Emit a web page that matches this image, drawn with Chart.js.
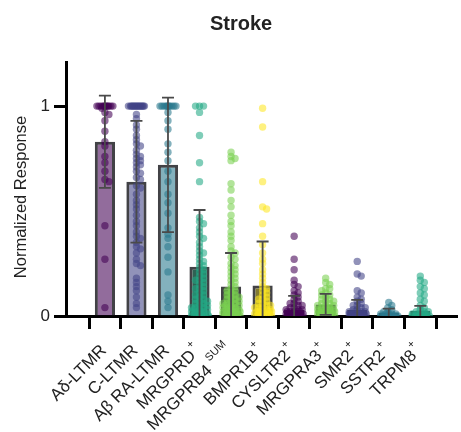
<!DOCTYPE html>
<html>
<head>
<meta charset="utf-8">
<script src="https://cdn.jsdelivr.net/npm/chart.js@4.4.1/dist/chart.umd.min.js"></script>
<style>
  html, body { margin: 0; padding: 0; background: #fff; }
  #wrap { width: 461px; height: 432px; position: relative; }
</style>
</head>
<body>
<div id="wrap"><canvas id="strokeChart"></canvas></div>
<script>
const categories = ['Aδ-LTMR', 'C-LTMR', 'Aβ RA-LTMR', 'MRGPRD', 'MRGPRB4', 'BMPR1B', 'CYSLTR2', 'MRGPRA3', 'SMR2', 'SSTR2', 'TRPM8'];
const superscripts = ['', '', '', '+', ' SUM', '+', '+', '+', '+', '+', '+'];
const means = [0.83, 0.64, 0.72, 0.235, 0.14, 0.145, 0.03, 0.055, 0.03, 0.015, 0.024];
const sds = [0.22, 0.29, 0.32, 0.27, 0.16, 0.21, 0.066, 0.05, 0.047, 0.02, 0.024];
const colors = ['#440154', '#414487', '#2a788e', '#22a884', '#7ad151', '#fde725', '#440154', '#7ad151', '#414487', '#2a788e', '#22a884'];
const yTicks = [0, 1];

// single-cell normalized responses per group
const adLtmr = [1, 1, 1, 1, 1, 1, 1, 1, 1, 1, 1, 1, 0.99, 0.97, 0.96, 0.93, 0.88, 0.83, 0.81, 0.76, 0.73, 0.69, 0.65, 0.64, 0.43, 0.27, 0.04];
const cLtmr = [1, 1, 1, 1, 1, 1, 1, 1, 1, 1, 1, 1, 1, 1, 1, 1, 0.96, 0.94, 0.91, 0.89, 0.86, 0.84, 0.82, 0.81, 0.79, 0.77, 0.76, 0.75, 0.74, 0.73, 0.72, 0.71, 0.69, 0.68, 0.66, 0.65, 0.62, 0.61, 0.58, 0.55, 0.53, 0.51, 0.48, 0.45, 0.43, 0.4, 0.38, 0.37, 0.35, 0.33, 0.32, 0.3, 0.27, 0.25, 0.24, 0.18, 0.16, 0.14, 0.12, 0.09, 0.06, 0.04];
const abRaLtmr = [1, 1, 1, 1, 1, 1, 1, 1, 1, 1, 1, 0.97, 0.93, 0.89, 0.82, 0.78, 0.74, 0.69, 0.64, 0.58, 0.54, 0.49, 0.42, 0.39, 0.37, 0.33, 0.28, 0.21, 0.1, 0.07, 0.04];
const mrgprd = [1, 1, 1, 0.97, 0.86, 0.73, 0.64, 0.47, 0.45, 0.44, 0.42, 0.4, 0.38, 0.37, 0.35, 0.33, 0.31, 0.3, 0.29, 0.27, 0.26, 0.25, 0.24, 0.23, 0.22, 0.21, 0.2, 0.19, 0.18, 0.17, 0.17, 0.16, 0.15, 0.14, 0.13, 0.13, 0.12, 0.11, 0.1, 0.1, 0.09, 0.08, 0.08, 0.07, 0.07, 0.06, 0.06, 0.05, 0.05, 0.04, 0.04, 0.04, 0.03, 0.03, 0.03, 0.02, 0.02, 0.02, 0.02, 0.01, 0.01, 0.01, 0.01, 0, 0, 0, 0, 0, 0];
const mrgprb4 = [0.78, 0.76, 0.75, 0.74, 0.63, 0.6, 0.55, 0.52, 0.48, 0.45, 0.43, 0.4, 0.38, 0.36, 0.33, 0.31, 0.3, 0.28, 0.27, 0.25, 0.24, 0.23, 0.22, 0.21, 0.2, 0.19, 0.18, 0.17, 0.16, 0.15, 0.14, 0.13, 0.12, 0.12, 0.11, 0.1, 0.1, 0.09, 0.09, 0.08, 0.08, 0.07, 0.07, 0.06, 0.06, 0.06, 0.05, 0.05, 0.05, 0.04, 0.04, 0.04, 0.04, 0.03, 0.03, 0.03, 0.03, 0.02, 0.02, 0.02, 0.02, 0.02, 0.02, 0.01, 0.01, 0.01, 0.01, 0.01, 0.01, 0, 0, 0, 0, 0, 0];
const bmpr1b = [0.99, 0.9, 0.64, 0.52, 0.51, 0.44, 0.38, 0.34, 0.3, 0.27, 0.25, 0.22, 0.2, 0.18, 0.16, 0.14, 0.13, 0.12, 0.11, 0.1, 0.09, 0.08, 0.08, 0.07, 0.06, 0.06, 0.05, 0.05, 0.04, 0.04, 0.04, 0.03, 0.03, 0.03, 0.02, 0.02, 0.02, 0.02, 0.02, 0.01, 0.01, 0.01, 0.01, 0.01, 0, 0, 0, 0, 0];
const cysltr2 = [0.38, 0.27, 0.22, 0.17, 0.15, 0.14, 0.12, 0.11, 0.1, 0.09, 0.08, 0.07, 0.06, 0.06, 0.05, 0.05, 0.04, 0.04, 0.03, 0.03, 0.03, 0.02, 0.02, 0.02, 0.02, 0.02, 0.01, 0.01, 0.01, 0.01, 0.01, 0.01, 0.01, 0.01, 0, 0, 0, 0, 0, 0, 0, 0, 0, 0];
const mrgpra3 = [0.18, 0.16, 0.15, 0.13, 0.13, 0.12, 0.11, 0.1, 0.1, 0.09, 0.08, 0.08, 0.07, 0.07, 0.06, 0.06, 0.05, 0.05, 0.05, 0.04, 0.04, 0.04, 0.03, 0.03, 0.03, 0.03, 0.02, 0.02, 0.02, 0.02, 0.02, 0.01, 0.01, 0.01, 0.01, 0.01, 0.01, 0, 0, 0, 0, 0, 0];
const smr2 = [0.26, 0.2, 0.19, 0.12, 0.11, 0.09, 0.08, 0.07, 0.06, 0.05, 0.05, 0.04, 0.04, 0.03, 0.03, 0.02, 0.02, 0.02, 0.02, 0.01, 0.01, 0.01, 0.01, 0.01, 0.01, 0.01, 0.01, 0, 0, 0, 0, 0, 0, 0, 0, 0, 0];
const sstr2 = [0.065, 0.05, 0.04, 0.03, 0.02, 0.02, 0.01, 0.01, 0.01, 0.01, 0.01, 0, 0, 0, 0, 0, 0, 0, 0, 0, 0];
const trpm8 = [0.19, 0.17, 0.16, 0.14, 0.13, 0.11, 0.1, 0.08, 0.07, 0.05, 0.04, 0.03, 0.02, 0.02, 0.02, 0.01, 0.01, 0.01, 0.01, 0.01, 0, 0, 0, 0, 0, 0, 0, 0];
const responses = [adLtmr, cLtmr, abRaLtmr, mrgprd, mrgprb4, bmpr1b, cysltr2, mrgpra3, smr2, sstr2, trpm8];

const FONT = "Arial, 'Liberation Sans', Helvetica, sans-serif";

function rgb(hex) {
  const n = parseInt(hex.slice(1), 16);
  return [n >> 16, (n >> 8) & 255, n & 255];
}
function withAlpha(hex, a) {
  const [r, g, b] = rgb(hex);
  return `rgba(${r}, ${g}, ${b}, ${a})`;
}
// the three LTMR bars get a light tint, the rest a dark, shaded tint
function barFill(hex, i) {
  if (i < 3) return withAlpha(hex, 0.58);
  const [r, g, b] = rgb(hex).map(c => Math.round(c * 0.38 + 55 * 0.62));
  return `rgb(${r}, ${g}, ${b})`;
}

// simple beeswarm: horizontal offsets (px) so dots don't pile up on one spot
function swarmOffsets(values, yScale) {
  const placed = [];
  const minDist = 3.8, maxHalf = 8.5;
  return values.map(v => {
    const py = yScale.getPixelForValue(v);
    let best = 0, bestClear = -1;
    for (let k = 0; k <= maxHalf * 2; k++) {
      const dx = (k % 2 ? 1 : -1) * Math.ceil(k / 2);
      let clear = Infinity;
      for (const p of placed) {
        const d = Math.hypot(p[0] - dx, p[1] - py);
        if (d < clear) clear = d;
      }
      if (clear >= minDist) { best = dx; bestClear = clear; break; }
      if (clear > bestClear) { bestClear = clear; best = dx; }
    }
    placed.push([best, py]);
    return best;
  });
}

const labelsAndBars = {
  id: 'labelsAndBars',
  afterDatasetsDraw(chart) {
    const { ctx, scales: { x, y } } = chart;
    // error bars (mean ± SD)
    ctx.save();
    ctx.strokeStyle = '#4a4a4a';
    ctx.lineWidth = 1.8;
    means.forEach((m, i) => {
      const cx = x.getPixelForValue(i);
      const top = y.getPixelForValue(m + sds[i]);
      const lo = m - sds[i];
      const bot = y.getPixelForValue(Math.max(0, lo));
      ctx.beginPath();
      ctx.moveTo(cx, bot); ctx.lineTo(cx, top);
      ctx.moveTo(cx - 6, top); ctx.lineTo(cx + 6, top);
      if (lo > 0) { ctx.moveTo(cx - 6, bot); ctx.lineTo(cx + 6, bot); }
      ctx.stroke();
    });
    ctx.restore();
  },
  afterDraw(chart) {
    const { ctx, chartArea, scales: { x, y } } = chart;
    ctx.save();
    ctx.fillStyle = '#222';
    // title
    ctx.font = `bold 20px ${FONT}`;
    ctx.textAlign = 'center';
    ctx.textBaseline = 'middle';
    ctx.fillText('Stroke', 241, 24);
    // y axis title
    ctx.save();
    ctx.translate(21, (chartArea.top + chartArea.bottom) / 2 + 8);
    ctx.rotate(-Math.PI / 2);
    ctx.font = `16.5px ${FONT}`;
    ctx.fillText('Normalized Response', 0, 0);
    ctx.restore();
    // rotated category labels with superscripts
    const y0 = y.getPixelForValue(0);
    const mainFont = `17px ${FONT}`, supFont = `11px ${FONT}`;
    categories.forEach((name, i) => {
      const sup = superscripts[i];
      ctx.save();
      ctx.translate(x.getPixelForValue(i) - 1, y0 + 32);
      ctx.rotate(-Math.PI / 4);
      ctx.textAlign = 'left';
      ctx.textBaseline = 'middle';
      ctx.font = supFont;
      const ws = sup ? ctx.measureText(sup).width + 1 : 0;
      ctx.font = mainFont;
      const wm = ctx.measureText(name).width;
      ctx.fillText(name, -(wm + ws), 0);
      if (sup) {
        ctx.font = supFont;
        ctx.fillText(sup, -ws + 1, -8);
      }
      ctx.restore();
    });
    ctx.restore();
  }
};

const barData = means.map((m, i) => ({ x: i, y: m }));
const datasets = [{
  type: 'bar',
  data: barData,
  backgroundColor: colors.map(barFill),
  borderColor: 'rgba(40, 40, 44, 0.88)',
  borderWidth: 3,
  barPercentage: 0.64,
  categoryPercentage: 1,
  order: 2
}];
responses.forEach((vals, i) => {
  datasets.push({
    type: 'scatter',
    data: vals.map(v => ({ x: i, y: v })),
    pointRadius: 3.7,
    pointBorderWidth: 0,
    pointBackgroundColor: withAlpha(colors[i], 0.58),
    order: 1
  });
});

const chart = new Chart(document.getElementById('strokeChart'), {
  data: { datasets },
  options: {
    responsive: true,
    maintainAspectRatio: false,
    animation: false,
    layout: { padding: { top: 62, right: 3, left: 0, bottom: 0 } },
    plugins: { legend: { display: false }, title: { display: false }, tooltip: { enabled: false } },
    scales: {
      x: {
        type: 'linear',
        min: -0.67,
        max: 10.6,
        afterBuildTicks: s => { s.ticks = categories.map((c, i) => ({ value: i })); },
        afterFit: s => { s.height = 116; },
        ticks: { display: false },
        grid: { display: true, drawOnChartArea: false, drawTicks: true, tickLength: 13, tickWidth: 3, tickColor: '#000' },
        border: { display: true, color: '#000', width: 3 }
      },
      y: {
        min: 0,
        max: 1.21,
        afterBuildTicks: s => { s.ticks = yTicks.map(v => ({ value: v })); },
        afterFit: s => { s.width = 66; },
        ticks: { color: '#222', font: { family: FONT, size: 17 }, padding: 4 },
        grid: { display: true, drawOnChartArea: false, drawTicks: true, tickLength: 12, tickWidth: 3, tickColor: '#000' },
        border: { display: true, color: '#000', width: 3 }
      }
    }
  },
  plugins: [labelsAndBars]
});

// spread the dots once the scales exist
const yScale = chart.scales.y, xScale = chart.scales.x;
const pxPerUnit = xScale.getPixelForValue(1) - xScale.getPixelForValue(0);
responses.forEach((vals, i) => {
  const offs = swarmOffsets(vals, yScale);
  chart.data.datasets[i + 1].data = vals.map((v, j) => ({ x: i + offs[j] / pxPerUnit, y: v }));
});
chart.update('none');
</script>
</body>
</html>
